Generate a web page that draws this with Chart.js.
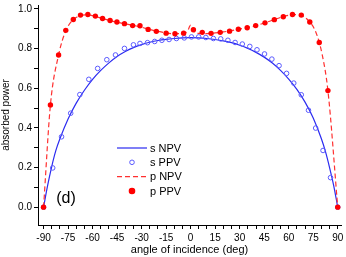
<!DOCTYPE html>
<html>
<head>
<meta charset="utf-8">
<script src="https://cdn.jsdelivr.net/npm/chart.js@4.4.0/dist/chart.umd.min.js"></script>
<style>
    html, body { margin: 0; padding: 0; background: #fff; }
    #wrap { width: 346px; height: 257px; position: relative; }
</style>
</head>
<body>
<div id="wrap"><canvas id="chart"></canvas></div>
<script>
// Values (angle in deg, absorbed power)
const sNpvAngles = [-90, -87.5, -85, -82.5, -80, -75, -70, -65, -60, -55, -50, -45, -40, -35, -30, -25, -20, -15, -10, -5, 0, 5, 10, 15, 20, 25, 30, 35, 40, 45, 50, 55, 60, 65, 70, 75, 80, 82.5, 85, 87.5, 90];
const sNpvValues = [0, 0.11, 0.205, 0.285, 0.345, 0.445, 0.525, 0.59, 0.645, 0.69, 0.728, 0.76, 0.785, 0.805, 0.82, 0.832, 0.841, 0.847, 0.851, 0.854, 0.855, 0.854, 0.851, 0.846, 0.839, 0.83, 0.817, 0.801, 0.781, 0.757, 0.727, 0.69, 0.646, 0.594, 0.53, 0.45, 0.345, 0.28, 0.2, 0.11, 0];

const sPpvAngles = [-90, -84.4, -79, -73.4, -67.8, -62.3, -56.9, -51.3, -46, -40.5, -35, -31, -26.4, -22, -17.6, -13.2, -8.7, -3.9, 0.5, 4.9, 9.3, 13.9, 18.4, 22.8, 27.2, 31.6, 36.2, 40.6, 45.2, 49.7, 54.1, 58.7, 63.1, 67.7, 72.1, 76.5, 81, 85.6, 90];
const sPpvValues = [0, 0.198, 0.355, 0.474, 0.568, 0.645, 0.700, 0.744, 0.768, 0.801, 0.819, 0.826, 0.830, 0.836, 0.842, 0.846, 0.851, 0.854, 0.859, 0.859, 0.856, 0.851, 0.849, 0.842, 0.831, 0.823, 0.811, 0.794, 0.773, 0.747, 0.714, 0.675, 0.626, 0.567, 0.489, 0.399, 0.286, 0.149, 0];

const pNpvAngles = [-90, -85.8, -80.8, -76.4, -72, -67.5, -63, -58.5, -54, -49.5, -45, -40, -35, -30, -25, -20, -15, -10, -5, -2, 0, 2, 5, 10, 15, 20, 25, 30, 35, 40, 45, 50, 55, 60, 63, 67.5, 72, 76.5, 80.4, 84, 90];
const pNpvValues = [0, 0.516, 0.768, 0.890, 0.945, 0.966, 0.970, 0.963, 0.952, 0.942, 0.933, 0.925, 0.917, 0.908, 0.897, 0.887, 0.879, 0.875, 0.876, 0.887, 0.918, 0.887, 0.877, 0.876, 0.879, 0.884, 0.891, 0.899, 0.906, 0.916, 0.929, 0.943, 0.957, 0.968, 0.972, 0.967, 0.942, 0.885, 0.773, 0.588, 0];

const pPpvAngles = [-90, -85.8, -80.8, -76.4, -71.8, -67.4, -62.9, -58.3, -53.9, -49.3, -45.1, -40.5, -35.5, -31, -26, -21, -15, -9.6, -4.3, 1.7, 7.1, 12.5, 18.1, 23.8, 29.2, 34.6, 39.8, 45.5, 51.2, 56.7, 62.3, 67.7, 72.9, 78.7, 84, 90];
const pPpvValues = [0, 0.516, 0.768, 0.892, 0.947, 0.969, 0.972, 0.964, 0.952, 0.942, 0.934, 0.926, 0.916, 0.915, 0.897, 0.887, 0.878, 0.875, 0.878, 0.895, 0.882, 0.877, 0.882, 0.888, 0.898, 0.905, 0.916, 0.930, 0.946, 0.961, 0.972, 0.969, 0.934, 0.831, 0.588, 0];

const xLabelTicks = [-90, -75, -60, -45, -30, -15, 0, 15, 30, 45, 60, 75, 90];
const yLabelTicks = [0.0, 0.2, 0.4, 0.6, 0.8, 1.0];

const seriesNames = ['s NPV', 's PPV', 'p NPV', 'p PPV'];
const xTitle = 'angle of incidence (deg)';
const yTitle = 'absorbed power';
const panelLabel = '(d)';

const FONT = '"Liberation Sans", Arial, Helvetica, sans-serif';

function toPoints(xs, ys) {
    return xs.map((x, i) => ({ x: x, y: ys[i] }));
}

// minor ticks: every 5 deg on x, every 0.1 on y
const xMinor = [];
for (let v = -90; v <= 90; v += 5) xMinor.push(v);
const yMinor = [];
for (let i = 0; i <= 10; i++) yMinor.push(i / 10);

// Legend, panel label drawn on top
const overlay = {
    id: 'overlay',
    afterDraw(chart) {
        const ctx = chart.ctx;
        ctx.save();

        // panel label
        ctx.fillStyle = '#000';
        ctx.font = '16px ' + FONT;
        ctx.textAlign = 'center';
        ctx.textBaseline = 'middle';
        ctx.fillText(panelLabel, 66, 199);

        // legend
        const rowY = [148, 162.3, 176.7, 191];
        ctx.font = '11px ' + FONT;
        ctx.textAlign = 'left';
        chart.data.datasets.forEach((ds, i) => {
            const y = rowY[i];
            if (ds.showLine) {
                ctx.beginPath();
                ctx.setLineDash(ds.borderDash || []);
                ctx.strokeStyle = ds.borderColor;
                ctx.lineWidth = ds.borderWidth;
                ctx.moveTo(117, y);
                ctx.lineTo(147, y);
                ctx.stroke();
                ctx.setLineDash([]);
            } else {
                ctx.beginPath();
                ctx.arc(132, y, ds.pointRadius, 0, Math.PI * 2);
                ctx.fillStyle = ds.pointBackgroundColor;
                ctx.fill();
                ctx.lineWidth = ds.pointBorderWidth;
                ctx.strokeStyle = ds.pointBorderColor;
                ctx.stroke();
            }
            ctx.fillStyle = '#000';
            ctx.fillText(ds.label, 150, y + 0.5);
        });
        ctx.restore();
    }
};

const ctx = document.getElementById('chart').getContext('2d');
new Chart(ctx, {
    type: 'scatter',
    data: {
        datasets: [{
            label: seriesNames[0],
            data: toPoints(sNpvAngles, sNpvValues),
            showLine: true,
            borderColor: '#2b2bf0',
            borderWidth: 1.2,
            pointRadius: 0,
            cubicInterpolationMode: 'monotone',
            order: 3
        }, {
            label: seriesNames[1],
            data: toPoints(sPpvAngles, sPpvValues),
            showLine: false,
            pointRadius: 2.3,
            pointBorderWidth: 1,
            pointBorderColor: '#5a5aff',
            pointBackgroundColor: 'rgba(255,255,255,0)',
            order: 2
        }, {
            label: seriesNames[2],
            data: toPoints(pNpvAngles, pNpvValues),
            showLine: true,
            borderColor: '#ff3030',
            borderWidth: 1.2,
            borderDash: [5, 3],
            pointRadius: 0,
            cubicInterpolationMode: 'monotone',
            order: 1
        }, {
            label: seriesNames[3],
            data: toPoints(pPpvAngles, pPpvValues),
            showLine: false,
            pointRadius: 2.7,
            pointBorderWidth: 0,
            pointBorderColor: '#ff0000',
            pointBackgroundColor: '#ff0000',
            order: 0
        }]
    },
    options: {
        responsive: true,
        maintainAspectRatio: false,
        animation: false,
        layout: { padding: 0 },
        plugins: {
            legend: { display: false },
            tooltip: { enabled: false }
        },
        scales: {
            x: {
                type: 'linear',
                min: -93.4,
                max: 92,
                afterBuildTicks(scale) {
                    scale.ticks = xMinor.map(v => ({ value: v }));
                },
                afterFit(scale) {
                    scale.height = 32;
                    scale.paddingLeft = 0;
                    scale.paddingRight = 0;
                },
                border: { display: true, color: '#000', width: 1 },
                grid: {
                    drawOnChartArea: false,
                    drawTicks: true,
                    tickLength: 4,
                    color: '#000'
                },
                ticks: {
                    autoSkip: false,
                    maxRotation: 0,
                    padding: 3,
                    color: '#000',
                    font: { family: FONT, size: 10 },
                    callback: v => xLabelTicks.includes(v) ? String(v) : ''
                },
                title: {
                    display: true,
                    text: xTitle,
                    color: '#000',
                    font: { family: FONT, size: 11 },
                    padding: { top: 0, bottom: 0 }
                }
            },
            y: {
                type: 'linear',
                min: -0.09,
                max: 1.02,
                afterBuildTicks(scale) {
                    scale.ticks = yMinor.map(v => ({ value: v }));
                },
                afterFit(scale) {
                    scale.width = 38;
                    scale.paddingTop = 0;
                    scale.paddingBottom = 0;
                },
                border: { display: true, color: '#000', width: 1 },
                grid: {
                    drawOnChartArea: false,
                    drawTicks: true,
                    tickLength: 4,
                    color: '#000'
                },
                ticks: {
                    autoSkip: false,
                    padding: 2,
                    color: '#000',
                    font: { family: FONT, size: 10 },
                    callback: v => yLabelTicks.some(t => Math.abs(t - v) < 1e-9) ? v.toFixed(1) : ''
                },
                title: {
                    display: true,
                    text: yTitle,
                    color: '#000',
                    font: { family: FONT, size: 10 },
                    padding: { top: 0, bottom: 0 }
                }
            }
        }
    },
    plugins: [overlay]
});
</script>
</body>
</html>
